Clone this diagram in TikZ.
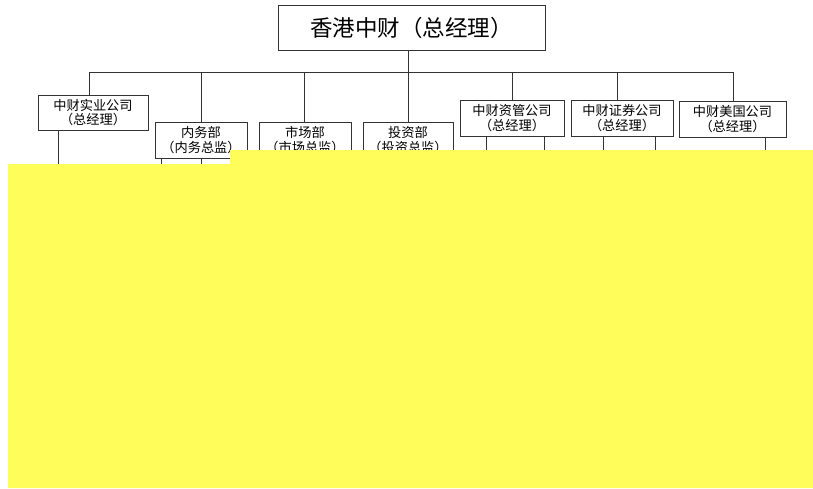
\documentclass[tikz,border=0pt]{standalone}
\usepackage{fontspec}
\setmainfont{Noto Sans CJK SC}
\usetikzlibrary{positioning}
\definecolor{cover}{RGB}{255,253,90}

\begin{document}
\begin{tikzpicture}[x=1pt, y=-1pt, line width=0.9pt,
  unit/.style={draw=black!80, inner sep=0pt, align=center, minimum height=36pt,
    font=\fontsize{13.2}{14.5}\selectfont},
  link/.style={draw=black!80}]
\useasboundingbox (0,0) rectangle (813,488);
% Head office
\node[draw=black!80, minimum width=267pt, minimum height=45pt,
  font=\fontsize{22.5}{26}\selectfont] (hq) at (411.5,27.5) {香港中财（总经理）};

% Companies and departments
\node[unit, minimum width=110pt, minimum height=35pt] (shiye) at (93,112.5) {中财实业公司\\（总经理）};
\node[unit, minimum width=92pt] (neiwu) at (201,140) {内务部\\（内务总监）};
\node[unit, minimum width=92pt] (shichang) at (305,140) {市场部\\（市场总监）};
\node[unit, minimum width=90pt] (touzi) at (408,140) {投资部\\（投资总监）};
\node[unit, minimum width=104pt] (ziguan) at (512,118) {中财资管公司\\（总经理）};
\node[unit, minimum width=102pt] (zhengquan) at (622,118) {中财证券公司\\（总经理）};
\node[unit, minimum width=107pt] (meiguo) at (732.5,119) {中财美国公司\\（总经理）};

% Bus
\coordinate (hub) at (408,72);
\draw[link] (hq.south -| hub) -- (hub);
\draw[link] (89,72) -- (733,72);
\foreach \n/\x in {shiye/89, neiwu/201, shichang/304, touzi/408, ziguan/512, zhengquan/617, meiguo/733}
  \draw[link] (\x,72) -- (\n.north -| \x,0);

% Drops to the lower level
\foreach \n/\x in {shiye/58, neiwu/161, neiwu/201, ziguan/486, ziguan/544, zhengquan/603, zhengquan/655, meiguo/765}
  \draw[link] (\n.south -| \x,0) -- (\x,175);

% Cover
\fill[cover] (8,164) -- (230,164) -- (230,150) -- (813,150) -- (813,488) -- (8,488) -- cycle;
\end{tikzpicture}
\end{document}
